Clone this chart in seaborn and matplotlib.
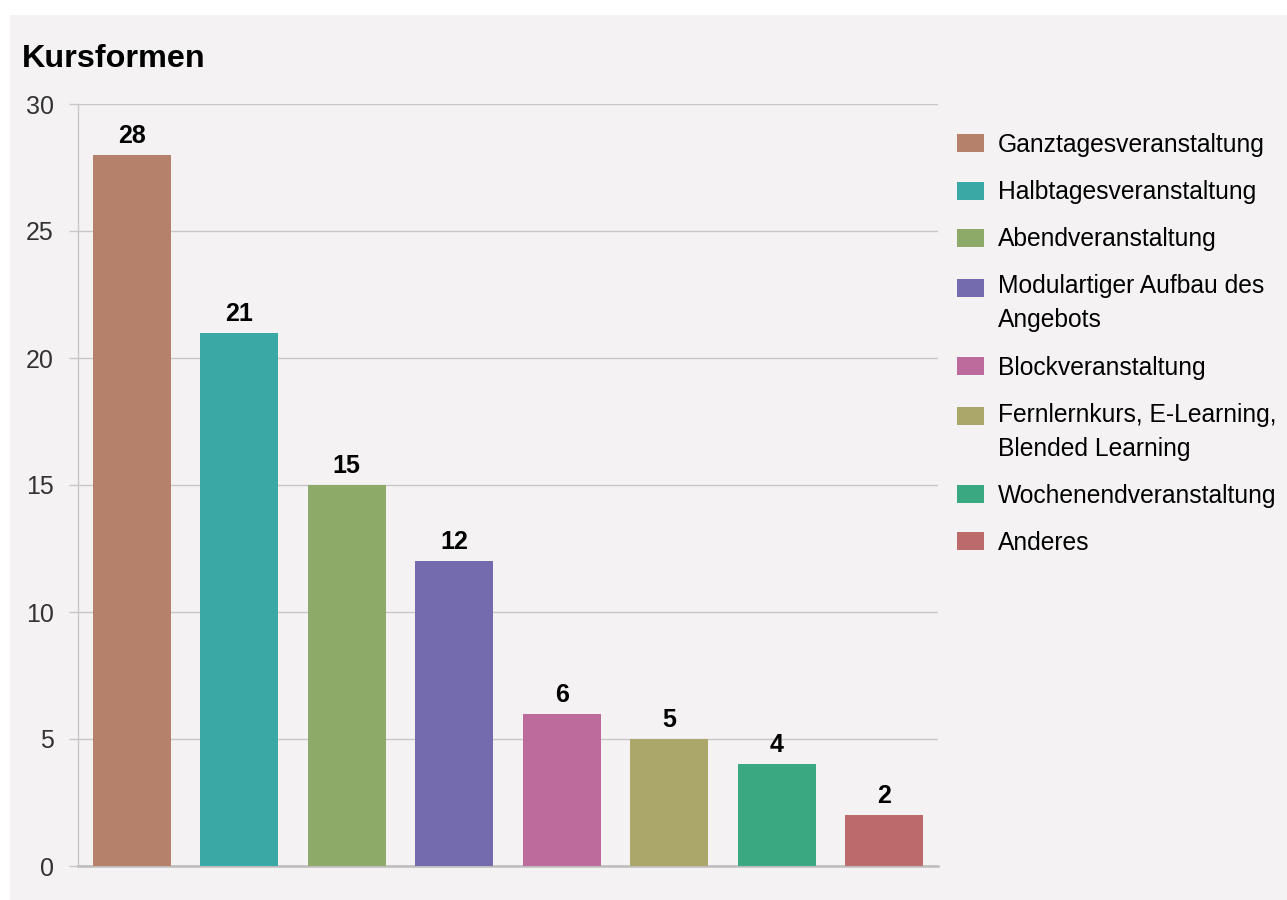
import matplotlib
matplotlib.use("Agg")
import matplotlib.pyplot as plt
import seaborn as sns
import pandas as pd
from matplotlib.patches import Patch, Rectangle

categories = [
    "Ganztagesveranstaltung",
    "Halbtagesveranstaltung",
    "Abendveranstaltung",
    "Modulartiger Aufbau des\nAngebots",
    "Blockveranstaltung",
    "Fernlernkurs, E-Learning,\nBlended Learning",
    "Wochenendveranstaltung",
    "Anderes",
]
values = [28, 21, 15, 12, 6, 5, 4, 2]
colors = ["#b5816a", "#3aa9a6", "#8eaa68", "#736bad",
          "#bd6b9c", "#aba76b", "#3aa981", "#bb6b6a"]
yticks = [0, 5, 10, 15, 20, 25, 30]
title = "Kursformen"

bg = "#f4f2f3"
grid = "#c8c6c7"

sns.set_theme(style="white")
plt.rcParams["font.family"] = ["Liberation Sans", "DejaVu Sans"]

fig = plt.figure(figsize=(12.87, 9.0), dpi=100, facecolor="white")
fig.patches.append(Rectangle((10 / 1287, 0), 1 - 10 / 1287, (900 - 15) / 900,
                             transform=fig.transFigure, facecolor=bg,
                             edgecolor="none", zorder=-10))

ax = fig.add_axes([78 / 1287, (900 - 866) / 900, (938 - 78) / 1287, (866 - 104) / 900])
ax.set_facecolor(bg)

df = pd.DataFrame({"cat": categories, "val": values})
sns.barplot(data=df, x="cat", y="val", hue="cat", palette=colors,
            order=categories, hue_order=categories, legend=False,
            width=0.725, saturation=1, linewidth=0, edgecolor="none",
            ax=ax, zorder=3)

ax.set_ylim(0, 30)
ax.set_xlim(-0.5, len(categories) - 0.5)
ax.set_yticks(yticks)
ax.set_yticklabels([str(t) for t in yticks])
ax.set_xticks([])
ax.set_xlabel("")
ax.set_ylabel("")
ax.yaxis.grid(True, color=grid, linewidth=1.0, zorder=0)
ax.tick_params(axis="y", length=6.5, width=1.0, color=grid, pad=11,
               labelsize=18, labelcolor="#333333", left=True)
for s in ["top", "right"]:
    ax.spines[s].set_visible(False)
ax.spines["left"].set_color(grid)
ax.spines["left"].set_linewidth(1.0)
ax.spines["bottom"].set_color("#bdbbbc")
ax.spines["bottom"].set_linewidth(1.8)

for i, v in enumerate(values):
    ax.annotate(str(v), (i, v), xytext=(0, 5), textcoords="offset points",
                ha="center", va="bottom", fontsize=18, fontweight="bold",
                color="black")

fig.text(22 / 1287, 1 - 59 / 900, title, fontsize=23.3, fontweight="bold",
         ha="left", va="center", color="black")

fs = 17.7
handles = [Patch(facecolor=c, edgecolor="none") for c in colors]
leg = fig.legend(handles, categories, loc="upper left",
                 bbox_to_anchor=(957 / 1287, 1 - 133 / 900),
                 frameon=False, fontsize=fs, handlelength=1.1,
                 handleheight=0.75, handletextpad=0.55, labelspacing=0.94,
                 borderaxespad=0, borderpad=0)
for t, h in zip(leg.get_texts(), leg.legend_handles):
    t.set_linespacing(1.53)
    t.set_color("black")
    if "\n" in t.get_text():
        h.set_y(h.get_y() + 0.67 * fs)

fig.savefig("out.png", dpi=100, facecolor="white")
